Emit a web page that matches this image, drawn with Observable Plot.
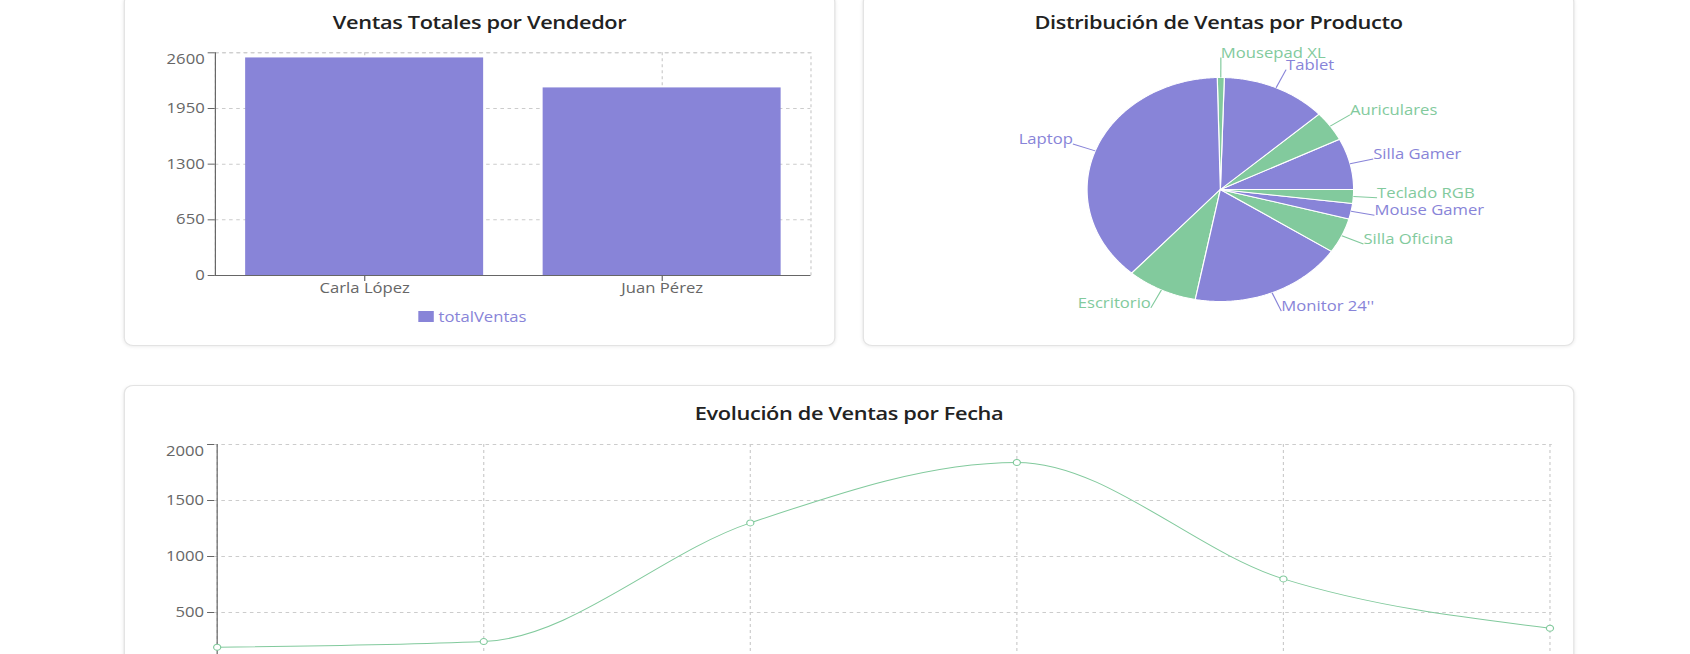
<!DOCTYPE html>
<html>
<head>
<meta charset="utf-8">
<script src="https://cdn.jsdelivr.net/npm/d3@7"></script>
<script src="https://cdn.jsdelivr.net/npm/@observablehq/plot@0.6"></script>
<style>
  html, body { margin: 0; padding: 0; background: #fff; overflow: hidden; }
  #page { position: relative; width: 1420px; height: 654px; transform: scaleX(1.19); transform-origin: 0 0; font-family: "Open Sans", sans-serif; }
  .panel { position: absolute; background: #fff; border: 1px solid #e3e3e3; border-radius: 8px; box-shadow: 0 1px 3px rgba(0,0,0,0.07); box-sizing: border-box; }
  .title { position: absolute; left: 0; right: 0; text-align: center; font-weight: 600; font-size: 18.3px; line-height: 24px; color: #222; letter-spacing: -0.3px; }
  .chart { position: absolute; left: 0; }
  .legend { position: absolute; display: flex; align-items: center; gap: 4px; font-size: 14px; color: #8884d8; transform: translateX(-50%); }
  .legend .sw { display: inline-block; width: 13px; height: 11px; background: #8884d8; }
</style>
</head>
<body>
<div id="page">
  <div class="panel" id="p1" style="left:104px; top:-6px; width:598px; height:352px;">
    <div class="title" style="top:15px;">Ventas Totales por Vendedor</div>
    <div class="chart" id="bar" style="top:0;"></div>
    <div class="legend" style="left:292px; top:312px;"><span class="sw"></span><span>totalVentas</span></div>
  </div>
  <div class="panel" id="p2" style="left:725px; top:-6px; width:598px; height:352px;">
    <div class="title" style="top:15px;">Distribución de Ventas por Producto</div>
    <div class="chart" id="pie" style="top:0;"></div>
  </div>
  <div class="panel" id="p3" style="left:104px; top:385px; width:1219px; height:420px;">
    <div class="title" style="top:15px;">Evolución de Ventas por Fecha</div>
    <div class="chart" id="line" style="top:0;"></div>
  </div>
</div>
<script>
// ---------- data ----------
const vendedores = ["Carla López", "Juan Pérez"];
const totalVentas = [2540, 2190];
const ticksVendedor = [0, 650, 1300, 1950, 2600];

const productos = ["Silla Gamer", "Auriculares", "Tablet", "Mousepad XL", "Laptop", "Escritorio", "Monitor 24''", "Silla Oficina", "Mouse Gamer", "Teclado RGB"];
const ventasProducto = [350, 205, 605, 40, 1800, 405, 885, 240, 105, 95];

const fechas = ["2024-05-01", "2024-05-02", "2024-05-03", "2024-05-04", "2024-05-05", "2024-05-06"];
const ventasFecha = [190, 240, 1300, 1840, 800, 360];
const ticksFecha = [0, 500, 1000, 1500, 2000];

// ---------- styles ----------
const PURPLE = "#8884d8";
const GREEN = "#82ca9d";
const GRID = {stroke: "#cccccc", strokeOpacity: 1, strokeDasharray: "3,3"};
const baseStyle = {fontSize: "14px", fontFamily: "Open Sans, sans-serif", color: "#666", background: "transparent", overflow: "visible"};

// ---------- bar chart ----------
const barData = vendedores.map((v, i) => ({vendedor: v, totalVentas: totalVentas[i]}));
const topV = ticksVendedor[ticksVendedor.length - 1];
const bar = Plot.plot({
  width: 596, height: 320,
  marginLeft: 75.5, marginRight: 20, marginTop: 57.3, marginBottom: 40,
  style: baseStyle,
  x: {domain: vendedores, paddingInner: 0.2, paddingOuter: 0.1, label: null},
  y: {domain: [0, topV], label: null},
  marks: [
    Plot.gridY(ticksVendedor, GRID),
    Plot.gridX(vendedores, GRID),
    Plot.frame(GRID),
    Plot.barY(barData, {x: "vendedor", y: "totalVentas", fill: PURPLE}),
    Plot.frame({anchor: "left", stroke: "#666"}),
    Plot.ruleY([0], {stroke: "#666"}),
    Plot.axisY(ticksVendedor, {tickSize: 6, tickPadding: 3, tickFormat: d => d === topV ? "" : String(d), label: null}),
    Plot.text([topV], {y: d => d, text: d => String(d), frameAnchor: "left", textAnchor: "end", dx: -9, dy: 7, fill: "#666"}),
    Plot.axisX(vendedores, {tickSize: 6, tickPadding: 2, label: null})
  ]
});
document.getElementById("bar").append(bar);

// ---------- pie chart ----------
const R = 112, LABEL_OFF = 20;
const arcs = d3.pie().sort(null).startAngle(0).endAngle(2 * Math.PI)(ventasProducto);
const slicePts = [];
const labels = [];
arcs.forEach((a, i) => {
  const name = productos[i];
  slicePts.push({name, x: 0, y: 0});
  const n = Math.max(2, Math.ceil((a.endAngle - a.startAngle) / 0.01));
  for (let k = 0; k <= n; k++) {
    const t = a.startAngle + (a.endAngle - a.startAngle) * k / n;
    slicePts.push({name, x: R * Math.cos(t), y: R * Math.sin(t)});
  }
  slicePts.push({name, x: 0, y: 0});
  const mid = (a.startAngle + a.endAngle) / 2;
  labels.push({
    name,
    x1: R * Math.cos(mid), y1: R * Math.sin(mid),
    x2: (R + LABEL_OFF) * Math.cos(mid), y2: (R + LABEL_OFF) * Math.sin(mid)
  });
});
const pie = Plot.plot({
  width: 596, height: 330,
  margin: 0,
  style: baseStyle,
  x: {domain: [-299, 297], axis: null},
  y: {domain: [-136, 194], axis: null},
  color: {domain: productos, range: productos.map((_, i) => i % 2 === 0 ? PURPLE : GREEN)},
  marks: [
    Plot.line(slicePts, {x: "x", y: "y", z: "name", fill: "name", stroke: "#fff", strokeWidth: 1, curve: "linear"}),
    Plot.link(labels, {x1: "x1", y1: "y1", x2: "x2", y2: "y2", stroke: "name", strokeWidth: 1}),
    Plot.text(labels.filter(d => d.x2 > 0), {x: "x2", y: "y2", text: "name", fill: "name", textAnchor: "start", lineAnchor: "bottom", fontSize: 14}),
    Plot.text(labels.filter(d => d.x2 <= 0), {x: "x2", y: "y2", text: "name", fill: "name", textAnchor: "end", lineAnchor: "bottom", fontSize: 14})
  ]
});
document.getElementById("pie").append(pie);

// ---------- line chart ----------
const lineData = fechas.map((f, i) => ({fecha: f, ventas: ventasFecha[i]}));
const topF = ticksFecha[ticksFecha.length - 1];
const visibleTicksFecha = ticksFecha.filter(d => d > 0);
const line = Plot.plot({
  width: 1217, height: 283,
  marginLeft: 75, marginRight: 18, marginTop: 58, marginBottom: 1,
  style: baseStyle,
  x: {type: "point", domain: fechas, padding: 0, label: null, axis: null},
  y: {domain: [0, topF], label: null},
  marks: [
    Plot.gridY(visibleTicksFecha, GRID),
    Plot.gridX(fechas, GRID),
    Plot.ruleX([fechas[0]], {stroke: "#666"}),
    Plot.line(lineData, {x: "fecha", y: "ventas", curve: "monotone-x", stroke: GREEN, strokeWidth: 1}),
    Plot.dot(lineData, {x: "fecha", y: "ventas", r: 3, fill: "#fff", stroke: GREEN, strokeWidth: 1}),
    Plot.axisY(visibleTicksFecha, {tickSize: 6, tickPadding: 3, tickFormat: d => d === topF ? "" : String(d), label: null}),
    Plot.text([topF], {y: d => d, text: d => String(d), frameAnchor: "left", textAnchor: "end", dx: -9, dy: 7, fill: "#666"})
  ]
});
document.getElementById("line").append(line);
</script>
</body>
</html>
